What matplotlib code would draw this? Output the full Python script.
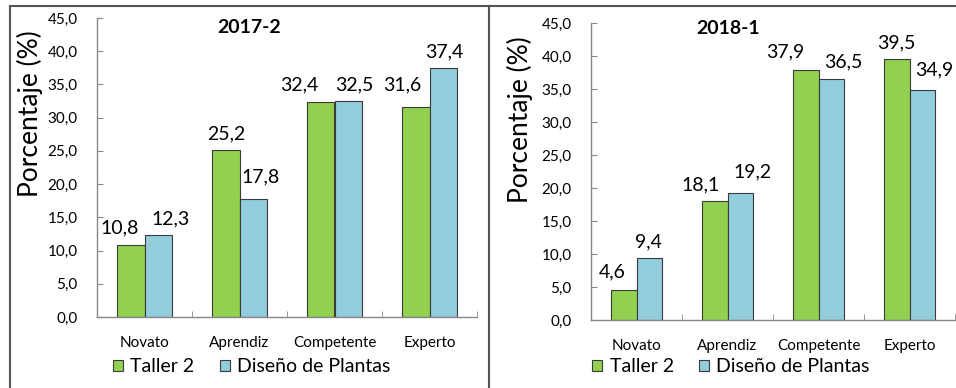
import matplotlib.pyplot as plt
from matplotlib.lines import Line2D
from matplotlib.patches import Patch
import numpy as np

plt.rcParams['font.family'] = ['Lato', 'DejaVu Sans']

# Data
categories = ['Novato', 'Aprendiz', 'Competente', 'Experto']
periods = ['2017-2', '2018-1']
taller_2 = [[10.8, 25.2, 32.4, 31.6], [4.6, 18.1, 37.9, 39.5]]
diseno_plantas = [[12.3, 17.8, 32.5, 37.4], [9.4, 19.2, 36.5, 34.9]]
series_names = ['Taller 2', 'Diseño de Plantas']
yticks = [0, 5, 10, 15, 20, 25, 30, 35, 40, 45]

# label nudges (pixels) to mimic the original placement
green_dx = [[-11, 0, -22, -14], [-11, -14, -20, 0]]
green_dy = [[9, 7, 8, 14], [9, 7, 9, 8]]
blue_dx = [[13, 8, 6, 1], [-1, 12, 12, 12]]
blue_dy = [[8, 13, 8, 8], [8, 13, 9, 11]]

green = '#92D050'
blue = '#92CDDC'
edge = '#3a3a3a'

fig = plt.figure(figsize=(9.56, 3.88), dpi=100)

panels = [
    # left, bottom, width, height (figure fraction)
    [97 / 956, 1 - 317 / 388, 380 / 956, 299 / 388],
    [591 / 956, 1 - 320 / 388, 364 / 956, 297 / 388],
]
title_pos = [(0.40, 0.967), (0.376, 0.983)]
ylabel_pos = [(30 / 956, 1 - 114 / 388), (520 / 956, 1 - 120 / 388)]
legend_x = [113 / 956, 592 / 956]

x = np.arange(len(categories))
w = 0.285

for i, rect in enumerate(panels):
    ax = fig.add_axes(rect)
    b1 = ax.bar(x - w / 2, taller_2[i], w, color=green, edgecolor=edge, linewidth=0.8)
    b2 = ax.bar(x + w / 2, diseno_plantas[i], w, color=blue, edgecolor=edge, linewidth=0.8)

    for j, bar in enumerate(b1):
        ax.annotate(f'{taller_2[i][j]:.1f}'.replace('.', ','),
                    (bar.get_x() + bar.get_width() / 2, bar.get_height()),
                    xytext=(green_dx[i][j], green_dy[i][j]), textcoords='offset pixels',
                    ha='center', va='bottom', fontsize=14)
    for j, bar in enumerate(b2):
        ax.annotate(f'{diseno_plantas[i][j]:.1f}'.replace('.', ','),
                    (bar.get_x() + bar.get_width() / 2, bar.get_height()),
                    xytext=(blue_dx[i][j], blue_dy[i][j]), textcoords='offset pixels',
                    ha='center', va='bottom', fontsize=14)

    ax.set_xlim(-0.5, len(categories) - 0.5)
    ax.set_ylim(0, 45)
    ax.set_yticks(yticks)
    ax.set_yticklabels([f'{v:.1f}'.replace('.', ',') for v in yticks], fontsize=11)
    ax.set_xticks(x)
    ax.set_xticklabels(categories, fontsize=11)
    ax.set_xticks(x + 0.5, minor=True)
    ax.tick_params(axis='x', which='major', length=0, pad=14)
    ax.tick_params(axis='x', which='minor', direction='in', length=4, color='#888888')
    ax.tick_params(axis='y', direction='in', length=4, color='#888888', pad=14)

    for side in ['top', 'right']:
        ax.spines[side].set_visible(False)
    for side in ['left', 'bottom']:
        ax.spines[side].set_color('#888888')
        ax.spines[side].set_linewidth(1.0)

    ax.text(title_pos[i][0], title_pos[i][1], periods[i], transform=ax.transAxes,
            ha='center', va='center', fontsize=14, fontweight='bold')
    fig.text(ylabel_pos[i][0], ylabel_pos[i][1], 'Porcentaje (%)', rotation=90,
             ha='center', va='center', fontsize=19)

    handles = [Patch(facecolor=green, edgecolor=edge, linewidth=0.8),
               Patch(facecolor=blue, edgecolor=edge, linewidth=0.8)]
    fig.legend(handles, series_names, loc='center left',
               bbox_to_anchor=(legend_x[i], 1 - 367 / 388), bbox_transform=fig.transFigure,
               ncol=2, frameon=False, fontsize=14, borderpad=0, borderaxespad=0,
               handlelength=0.5, handleheight=0.5, handletextpad=0.4, columnspacing=1.3)

# outer frame and divider
frame = '#555555'
fig.add_artist(Line2D([10 / 956, 10 / 956], [0, 1 - 6 / 388], color=frame, lw=1.5))
fig.add_artist(Line2D([10 / 956, 1], [1 - 6 / 388, 1 - 6 / 388], color=frame, lw=1.5))
fig.add_artist(Line2D([489 / 956, 489 / 956], [0, 1 - 6 / 388], color=frame, lw=1.5))

plt.savefig('out.png', dpi=100)
